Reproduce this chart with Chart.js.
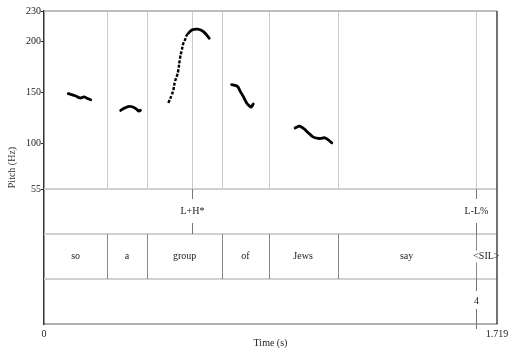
<!DOCTYPE html>
<html>
<head>
<meta charset="utf-8">
<script src="https://cdn.jsdelivr.net/npm/chart.js@4/dist/chart.umd.min.js"></script>
<style>
  html, body { margin: 0; padding: 0; background: #fff; }
  canvas { display: block; }
</style>
</head>
<body>
<canvas id="pitch" width="508" height="348"></canvas>
<script>
// pitch track, one array pair per voiced stretch (time in s, f0 in Hz)
const soT = [0.092, 0.118, 0.137, 0.152, 0.163, 0.177];
const soF = [148.9, 146.9, 144.7, 145.7, 144.5, 143.0];
const aT = [0.291, 0.307, 0.326, 0.345, 0.360, 0.366];
const aF = [132.5, 135.0, 136.5, 134.9, 131.8, 132.6];
const riseT = [0.472, 0.485, 0.491, 0.497, 0.504, 0.510, 0.516, 0.523, 0.529, 0.535, 0.542, 0.548];
const riseF = [139.8, 147.9, 152.8, 160.9, 165.8, 172.3, 183.5, 191.9, 198.4, 201.7, 206.5, 208.2];
const peakT = [0.548, 0.561, 0.573, 0.586, 0.605, 0.627];
const peakF = [208.2, 211.4, 212.0, 212.1, 209.8, 203.3];
const ofT = [0.712, 0.734, 0.745, 0.756, 0.769, 0.779, 0.786, 0.794];
const ofF = [157.7, 156.0, 151.0, 146.2, 139.8, 137.0, 135.9, 138.8];
const jewsT = [0.953, 0.972, 0.997, 1.022, 1.047, 1.066, 1.082, 1.092];
const jewsF = [115.3, 116.9, 112.0, 106.3, 104.9, 105.6, 102.9, 100.7];

// annotation tiers
const words = ["so", "a", "group", "of", "Jews", "say", "<SIL>"];
const wordEdges = [0, 0.240, 0.390, 0.677, 0.852, 1.114, 1.638, 1.719];
const tones = ["L+H*", "L-L%"];
const toneTimes = [0.563, 1.638];
const breaks = ["4"];
const breakTimes = [1.638];

const yTicks = [55, 100, 150, 200, 230];
const xTicks = [0, 1.719];

// tiers sit under the pitch range on the same vertical scale
const Y_TOP = 230, Y_PITCH = 55, Y_TONE = 11, Y_WORD = -33, Y_BOTTOM = -77;

const FONT = '"Liberation Serif", "Times New Roman", serif';

const pairs = (ts, fs) => ts.map((t, i) => ({ x: t, y: fs[i] }));

const track = (ts, fs, extra) => Object.assign({
  data: pairs(ts, fs),
  showLine: true,
  borderColor: '#000',
  borderWidth: 2.8,
  borderCapStyle: 'round',
  borderJoinStyle: 'round',
  tension: 0.4,
  pointRadius: 0
}, extra || {});

const tierPlugin = {
  id: 'tiers',
  beforeDatasetsDraw(chart) {
    const { ctx, scales: { x, y } } = chart;
    const px = t => Math.round(x.getPixelForValue(t)) + 0.5;
    const py = v => Math.round(y.getPixelForValue(v));
    const line = (x1, y1, x2, y2) => {
      ctx.beginPath(); ctx.moveTo(x1, y1); ctx.lineTo(x2, y2); ctx.stroke();
    };
    const label = (text, cx, cy) => {
      const w = ctx.measureText(text).width;
      ctx.fillStyle = '#fff';
      ctx.fillRect(cx - w / 2 - 1, cy - 6, w + 2, 12);
      ctx.fillStyle = '#222';
      ctx.fillText(text, cx, cy);
    };
    ctx.save();

    // thin guides through the pitch area
    ctx.strokeStyle = '#cccccc';
    ctx.lineWidth = 1;
    wordEdges.slice(1, -1).concat(toneTimes).forEach(t => line(px(t), py(Y_TOP), px(t), py(Y_PITCH)));

    // tier separators
    ctx.strokeStyle = '#d0d0d0';
    ctx.lineWidth = 2;
    [Y_PITCH, Y_TONE, Y_WORD].forEach(v => line(x.left, py(v), x.right, py(v)));

    // top frame
    ctx.strokeStyle = '#a8a8a8';
    ctx.lineWidth = 1.5;
    line(x.left, py(Y_TOP), x.right, py(Y_TOP));

    ctx.font = '10px ' + FONT;
    ctx.textAlign = 'center';
    ctx.textBaseline = 'middle';

    // word tier
    ctx.strokeStyle = '#888';
    ctx.lineWidth = 1;
    wordEdges.slice(1, -1).forEach(t => line(px(t), py(Y_TONE), px(t), py(Y_WORD)));
    words.forEach((w, i) => {
      const cx = (x.getPixelForValue(wordEdges[i]) + x.getPixelForValue(wordEdges[i + 1])) / 2;
      label(w, cx, (py(Y_TONE) + py(Y_WORD)) / 2);
    });

    // tone tier
    ctx.strokeStyle = '#777';
    toneTimes.forEach((t, i) => {
      line(px(t), py(Y_PITCH), px(t), py(Y_PITCH) + 10);
      line(px(t), py(Y_TONE) - 11, px(t), py(Y_TONE));
      label(tones[i], px(t), (py(Y_PITCH) + py(Y_TONE)) / 2);
    });

    // break tier
    breakTimes.forEach((t, i) => {
      line(px(t), py(Y_WORD), px(t), py(Y_WORD) + 12);
      line(px(t), py(Y_BOTTOM) - 15, px(t), py(Y_BOTTOM) + 5);
      label(breaks[i], px(t), (py(Y_WORD) + py(Y_BOTTOM)) / 2);
    });

    // right frame
    ctx.strokeStyle = '#444';
    ctx.lineWidth = 1.5;
    line(x.right, py(Y_TOP), x.right, py(Y_BOTTOM));

    ctx.restore();
  }
};

new Chart(document.getElementById('pitch'), {
  type: 'scatter',
  data: {
    datasets: [
      track(soT, soF),
      track(aT, aF),
      track(riseT, riseF, { borderDash: [3, 1.6], borderWidth: 2.4, borderCapStyle: 'butt' }),
      track(peakT, peakF),
      track(ofT, ofF),
      track(jewsT, jewsF)
    ]
  },
  options: {
    responsive: false,
    animation: false,
    layout: { padding: { top: 11, right: 11, left: 0, bottom: 0 } },
    plugins: {
      legend: { display: false },
      tooltip: { enabled: false }
    },
    scales: {
      x: {
        type: 'linear',
        min: 0,
        max: 1.719,
        afterBuildTicks: s => { s.ticks = xTicks.map(v => ({ value: v })); },
        afterFit: s => { s.height = 24; s.paddingLeft = 0; s.paddingRight = 0; },
        grid: { display: false, drawTicks: false },
        border: { display: true, color: '#b0b0b0', width: 2 },
        ticks: {
          padding: 4,
          maxRotation: 0,
          color: '#222',
          font: { family: FONT, size: 10 },
          callback: v => String(v)
        },
        title: {
          display: true,
          text: 'Time (s)',
          color: '#222',
          padding: { top: 0, bottom: 0 },
          font: { family: FONT, size: 10, lineHeight: 1 }
        }
      },
      y: {
        type: 'linear',
        min: Y_BOTTOM,
        max: Y_TOP,
        afterBuildTicks: s => { s.ticks = yTicks.map(v => ({ value: v })); },
        afterFit: s => { s.width = 44; s.paddingTop = 0; s.paddingBottom = 0; },
        grid: { drawOnChartArea: false, drawTicks: true, tickLength: 3, color: '#333' },
        border: { display: true, color: '#333', width: 1.5 },
        ticks: {
          padding: 0,
          color: '#222',
          font: { family: FONT, size: 10 },
          callback: v => String(v)
        },
        title: {
          display: true,
          text: 'Pitch (Hz)',
          color: '#333',
          padding: { top: 7, bottom: 0 },
          font: { family: FONT, size: 10, lineHeight: 1 }
        }
      }
    }
  },
  plugins: [tierPlugin]
});
</script>
</body>
</html>
